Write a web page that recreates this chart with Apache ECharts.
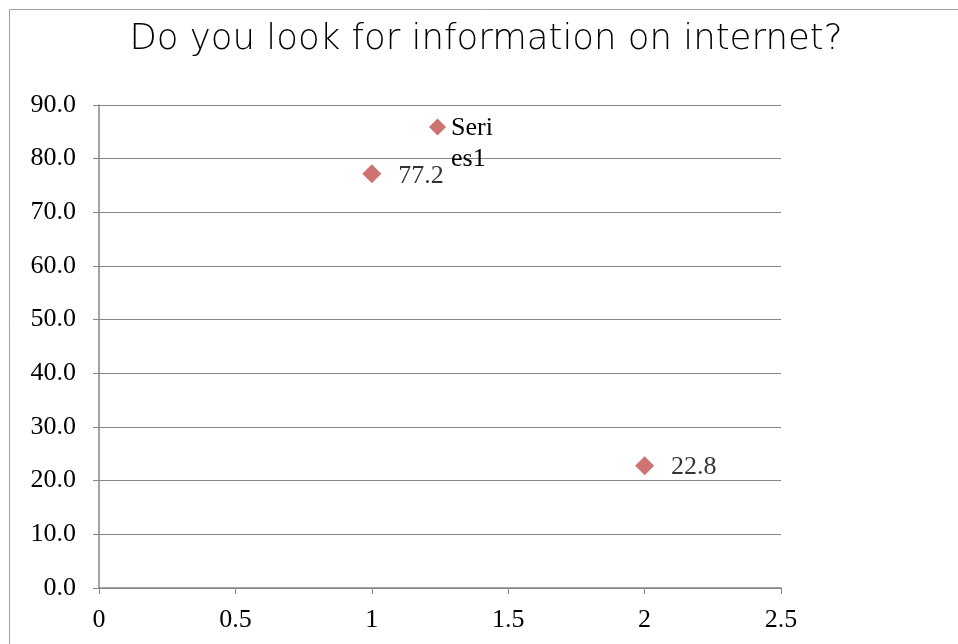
<!DOCTYPE html>
<html><head><meta charset="utf-8">
<script src="https://cdn.jsdelivr.net/npm/echarts@6/dist/echarts.min.js"></script>
<style>html,body{margin:0;padding:0;background:#fff}#c{width:958px;height:644px}</style>
</head><body><div id="c"></div>
<script>
const titleText = 'Do you look for information on internet?';
const seriesName = 'Series1';
const xValues = [1, 2];
const yValues = [77.2, 22.8];
const xTicks = [0, 0.5, 1, 1.5, 2, 2.5];
const yTicks = [0, 10, 20, 30, 40, 50, 60, 70, 80, 90];

const chart = echarts.init(document.getElementById('c'));
const serif = 'Liberation Serif';
chart.setOption({
  animation: false,
  backgroundColor: '#fff',
  title: {
    text: titleText, left: 481, top: 17, textAlign: 'center',
    textStyle: {fontFamily: 'DejaVu Sans', fontWeight: 200, fontSize: 35.5, color: '#000'}
  },
  graphic: [{type: 'rect', shape: {x: 9.5, y: 9.5, width: 1200, height: 1200}, style: {fill: null, stroke: '#a0a0a0', lineWidth: 1}, silent: true}],
  legend: {
    left: 424, top: 74, itemWidth: 17, itemHeight: 17, itemGap: 0, icon: 'diamond',
    formatter: () => '{g| }\n{t|Seri}\n{t|es1}',
    textStyle: {
      fontFamily: serif, fontSize: 26, color: '#000',
      rich: {
        g: {fontFamily: serif, fontSize: 26, height: 34, lineHeight: 34},
        t: {fontFamily: serif, fontSize: 26, lineHeight: 31, color: '#000'}
      }
    },
    data: [seriesName]
  },
  grid: {left: 99, right: 177, top: 105, bottom: 56},
  xAxis: {
    type: 'value', min: 0, max: 2.5, interval: 0.5,
    axisLine: {show: true, onZero: false, lineStyle: {color: '#868686', width: 1.5}},
    axisTick: {show: true, length: 6, lineStyle: {color: '#868686'}},
    splitLine: {show: false},
    axisLabel: {fontFamily: serif, fontSize: 26, color: '#000', margin: 19, formatter: v => String(v)}
  },
  yAxis: {
    type: 'value', min: 0, max: 90, interval: 10,
    axisLine: {show: true, lineStyle: {color: '#868686', width: 1.5}},
    axisTick: {show: true, length: 6, lineStyle: {color: '#868686'}},
    splitLine: {show: true, lineStyle: {color: '#868686', width: 1.2}},
    axisLabel: {fontFamily: serif, fontSize: 26, color: '#000', margin: 23, formatter: v => v.toFixed(1)}
  },
  series: [{
    name: seriesName, type: 'scatter', symbol: 'diamond', symbolSize: 19,
    itemStyle: {color: '#C0504D'},
    data: xValues.map((x, i) => [x, yValues[i]]),
    label: {show: true, position: 'right', distance: 17, offset: [0, 2], fontFamily: serif, fontSize: 26, color: '#000',
      formatter: p => p.value[1].toFixed(1)}
  }]
});
</script></body></html>
